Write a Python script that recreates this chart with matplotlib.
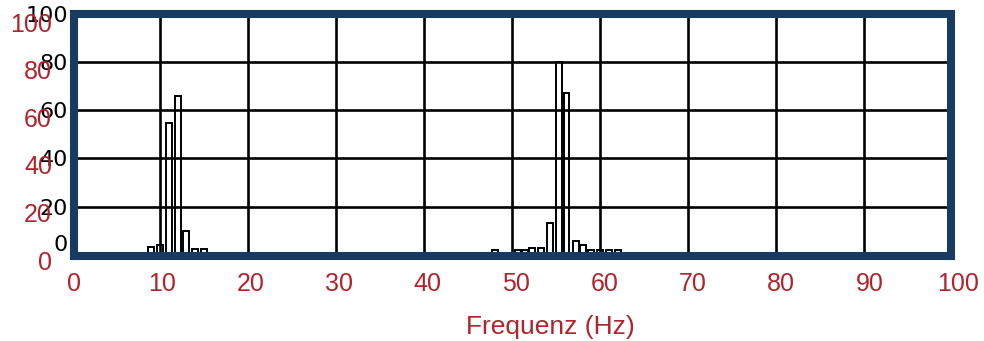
import matplotlib
matplotlib.use('Agg')
import matplotlib.pyplot as plt

# histogram (black scale, 0..100)
freq = [9, 10, 11, 12, 13, 14, 15,
        48.1, 50.7, 51.5, 52.3, 53.3, 54.3, 55.3, 56.2, 57.3, 58.1, 59, 60, 61, 62]
counts = [3.4, 4.1, 54.7, 65.7, 10, 2.3, 2.3,
          2, 2, 2, 2.8, 2.8, 13.3, 80, 67, 5.8, 4.1, 2, 2, 2, 2]

grid_x = [10, 20, 30, 40, 50, 60, 70, 80, 90]
grid_y = [20, 40, 60, 80]
black_ticks = [0, 20, 40, 60, 80, 100]

red_xticks = [0, 10, 20, 30, 40, 50, 60, 70, 80, 90, 100]
red_yticks = [0, 20, 40, 60, 80, 100]
xlabel = 'Frequenz (Hz)'

frame_col = '#183b61'
red = '#b3232b'

def main():
    fig = plt.figure(figsize=(9.84, 3.41), dpi=100)

    '''scanned chart: blue frame, black grid and bars'''
    ax = fig.add_axes([0.0752, 0.2493, 0.8913, 0.7111])
    ax.bar(freq, counts, width=0.68, facecolor='none', edgecolor='black', lw=1.4, zorder=2)
    for x in grid_x:
        ax.axvline(x, color='black', lw=1.9, zorder=1)
    for y in grid_y:
        ax.axhline(y, color='black', lw=1.9, zorder=1)
    ax.set_xlim(0.23, 99.9)
    ax.set_ylim(-0.4, 100)
    ax.set_xticks([])
    ax.set_yticks(black_ticks)
    ax.set_yticklabels([str(t) for t in black_ticks])
    ax.tick_params(axis='y', length=0, pad=4.3, labelsize=16, labelcolor='black')
    ax.get_yticklabels()[0].set_verticalalignment('bottom') # lifted 0 like in the scan
    for s in ax.spines.values():
        s.set_color(frame_col)
        s.set_linewidth(5.8)
        s.set_zorder(5)

    '''red axis labels overlaid on top'''
    bx = fig.add_axes([0.0752, 0.2375, 0.8984, 0.6979])
    bx.patch.set_alpha(0)
    bx.set_xlim(0, 100)
    bx.set_ylim(0, 100)
    bx.set_xticks(red_xticks)
    bx.set_yticks(red_yticks)
    bx.tick_params(axis='x', length=0, pad=8.5, labelsize=18, labelcolor=red)
    bx.tick_params(axis='y', length=0, pad=15.8, labelsize=18, labelcolor=red)
    for lab in bx.get_xticklabels() + bx.get_yticklabels():
        lab.set_family(['Liberation Sans', 'DejaVu Sans'])
    for s in bx.spines.values():
        s.set_visible(False)
    bx.set_xlabel(xlabel, color=red, fontsize=19, family=['Liberation Sans', 'DejaVu Sans'])
    bx.xaxis.set_label_coords(0.5385, -0.232)

    fig.savefig('out.png', dpi=100)

if __name__ == '__main__':
    main()
